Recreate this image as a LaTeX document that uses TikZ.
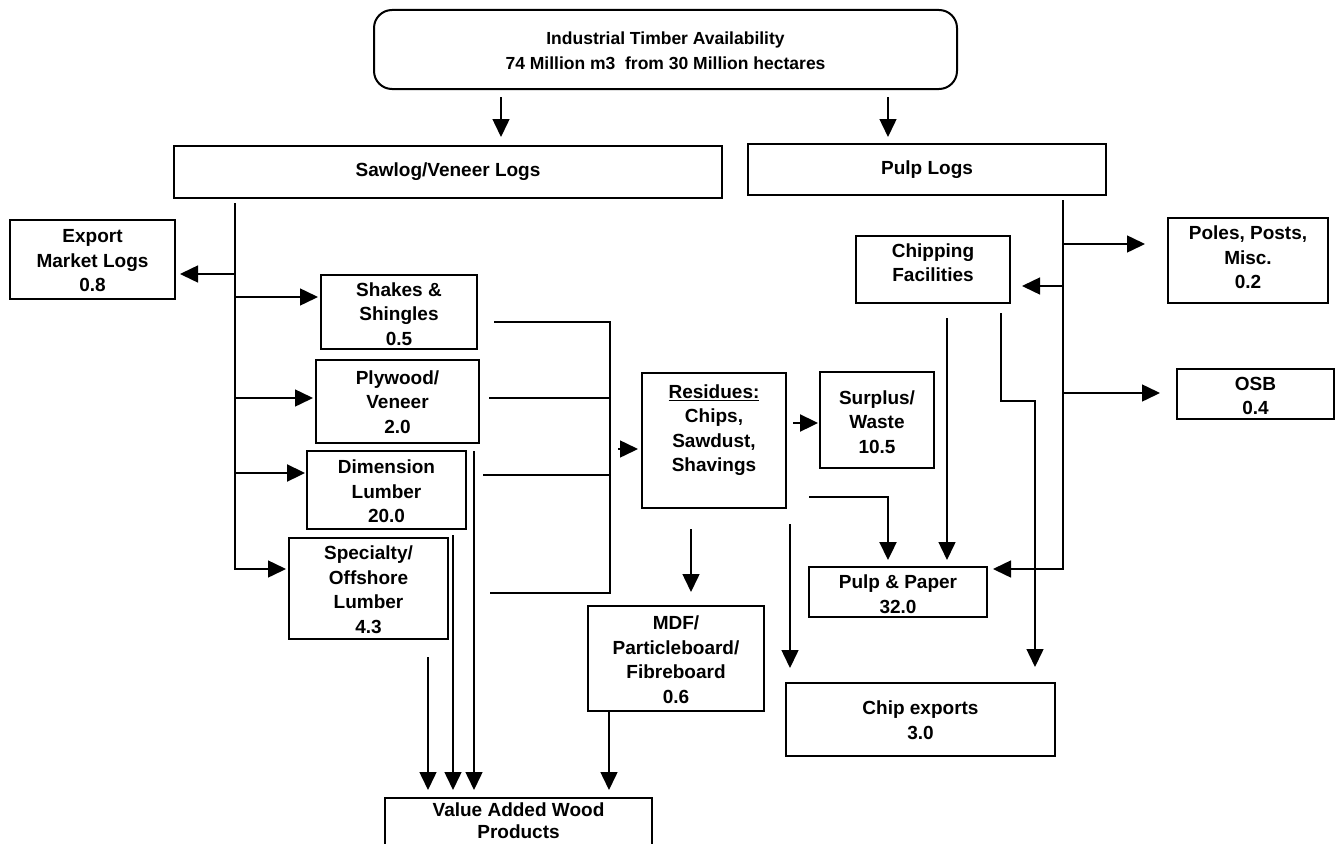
\documentclass[tikz,border=0pt]{standalone}
\usepackage{fontspec}
\setmainfont{Liberation Sans}
\usetikzlibrary{arrows.meta}
\newcommand\mkbox[7]{%
  \node[box, minimum width={#4-#2}, minimum height={#5-#3}] (#1) at ({(#2+#4)/2},{(#3+#5)/2}) {};
  \node[txt] (#1t) at ({(#2+#4)/2},#6) {#7};
}
\begin{document}
\begin{tikzpicture}[x=1pt,y=-1pt,
  box/.style={draw, line width=1.8pt, inner sep=0pt, outer sep=0pt},
  txt/.style={align=center, inner sep=0pt, font=\fontsize{19}{24.5}\selectfont\bfseries},
  ln/.style={line width=1.5pt},
  arr/.style={line width=1.5pt, -{Triangle[length=18pt,width=17pt]}},
  thk/.style={line width=2.3pt}]
\useasboundingbox (0,0) rectangle (1335,843);
\clip (0,0) rectangle (1335,843);
\fill[white] (0,0) rectangle (1335,843);

% top box
\node[box, line width=2pt, rounded corners=18pt, minimum width=583, minimum height=79] (top) at (665.5,49.5) {};
\node[txt, font=\fontsize{17.5}{25}\selectfont\bfseries] (topt) at (665.5,50.5) {Industrial Timber Availability\\74 Million m3\ \ from 30 Million hectares};

% boxes
\mkbox{saw}{174}{146}{722}{198}{172}{Sawlog/Veneer Logs}
\mkbox{pulp}{748}{144}{1106}{195}{170}{Pulp Logs}
\mkbox{exp}{10}{220}{175}{299}{261}{Export\\Market Logs\\0.8}
\mkbox{shk}{321}{275}{477}{349}{314}{Shakes \&\\Shingles\\0.5}
\mkbox{ply}{316}{360}{479}{443}{402}{Plywood/\\Veneer\\2.0}
\mkbox{dim}{307}{451}{466}{529}{491.5}{Dimension\\Lumber\\20.0}
\mkbox{spc}{289}{538}{448}{639}{589.5}{Specialty/\\Offshore\\Lumber\\4.3}
\mkbox{res}{642}{373}{786}{508}{430}{\underline{Residues:}\\Chips,\\Sawdust,\\Shavings}
\mkbox{sur}{820}{372}{934}{468}{422}{Surplus/\\Waste\\10.5}
\mkbox{mdf}{588}{606}{764}{711}{659.5}{MDF/\\Particleboard/\\Fibreboard\\0.6}
\node[box, minimum width=267, minimum height=72] (vaw) at (518.5,834) {};
\node[txt, font=\fontsize{19}{22.5}\selectfont\bfseries] (vawt) at (518.5,820.5) {Value Added Wood\\Products};
\mkbox{chp}{856}{236}{1010}{303}{262.5}{Chipping\\Facilities}
\mkbox{pp}{809}{567}{987}{617}{594}{Pulp \& Paper\\32.0}
\mkbox{cx}{786}{683}{1055}{756}{720}{Chip exports\\3.0}
\mkbox{pol}{1168}{218}{1328}{303}{257.5}{Poles, Posts,\\Misc.\\0.2}
\mkbox{osb}{1177}{369}{1334}{419}{396}{OSB\\0.4}

% top arrows
\coordinate (a1) at (501,97);
\coordinate (a2) at (888,97);
\draw[arr, shorten >=9pt] (a1) -- (saw.north -| a1);
\draw[arr, shorten >=7pt] (a2) -- (pulp.north -| a2);

% sawlog trunk and branches
\coordinate (sT) at (235,203);
\coordinate (sB) at (235,569);
\coordinate (e1) at (235,274);
\coordinate (e2) at (235,297);
\coordinate (e3) at (235,398);
\coordinate (e4) at (235,473);
\draw[arr, shorten >=3pt] (sT) -- (sB) -- (spc.west |- sB);
\draw[arr, shorten >=5pt] (e1) -- (exp.east |- e1);
\draw[arr, shorten >=3pt] (e2) -- (shk.west |- e2);
\draw[arr, shorten >=3pt] (e3) -- (ply.west |- e3);
\draw[arr, thk, shorten >=2pt] (e4) -- (dim.west |- e4);

% collector to residues
\coordinate (c1) at (494,322);
\coordinate (c2) at (489,398);
\coordinate (c3) at (483,475);
\coordinate (c4) at (490,593);
\coordinate (k1) at (610,322);
\coordinate (k2) at (610,398);
\coordinate (k3) at (610,475);
\coordinate (k4) at (610,593);
\coordinate (ka) at (618,449);
\draw[ln] (c1) -- (k1) -- (k4) -- (c4);
\draw[ln] (c2) -- (k2);
\draw[ln] (c3) -- (k3);
\draw[arr, shorten >=4pt] (ka) -- (res.west |- ka);

% down to value added
\coordinate (v1) at (428,657);
\coordinate (v2) at (453,535);
\coordinate (v3) at (474,451);
\coordinate (v4) at (609,711);
\draw[arr, shorten >=8pt] (v1) -- (vaw.north -| v1);
\draw[arr, shorten >=8pt] (v2) -- (vaw.north -| v2);
\draw[arr, shorten >=8pt] (v3) -- (vaw.north -| v3);
\draw[arr, shorten >=8pt] (v4) -- (vaw.north -| v4);

% residues outputs
\coordinate (r1) at (793,423);
\coordinate (r2) at (691,529);
\coordinate (r3) at (790,524);
\coordinate (r4) at (809,497);
\coordinate (r5) at (888,497);
\draw[arr, thk, shorten >=2pt] (r1) -- (sur.west |- r1);
\draw[arr, shorten >=14pt] (r2) -- (mdf.north -| r2);
\draw[arr, shorten >=15pt] (r3) -- (cx.north -| r3);
\draw[arr, thk, shorten >=7pt] (r4) -- (r5) -- (pp.north -| r5);

% chipping outputs
\coordinate (h1) at (947,318);
\coordinate (h2) at (1001,313);
\coordinate (h3) at (1001,401);
\coordinate (h4) at (1035,401);
\draw[arr, shorten >=7pt] (h1) -- (pp.north -| h1);
\draw[arr, shorten >=16pt] (h2) -- (h3) -- (h4) -- (cx.north -| h4);

% pulp trunk
\coordinate (pT) at (1063,200);
\coordinate (pB) at (1063,569);
\coordinate (p1) at (1063,244);
\coordinate (p2) at (1063,286);
\coordinate (p3) at (1063,393);
\draw[arr, shorten >=6pt] (pT) -- (pB) -- (pp.east |- pB);
\draw[arr, shorten >=23pt] (p1) -- (pol.west |- p1);
\draw[arr, shorten >=12pt] (p2) -- (chp.east |- p2);
\draw[arr, shorten >=17pt] (p3) -- (osb.west |- p3);
\end{tikzpicture}
\end{document}
